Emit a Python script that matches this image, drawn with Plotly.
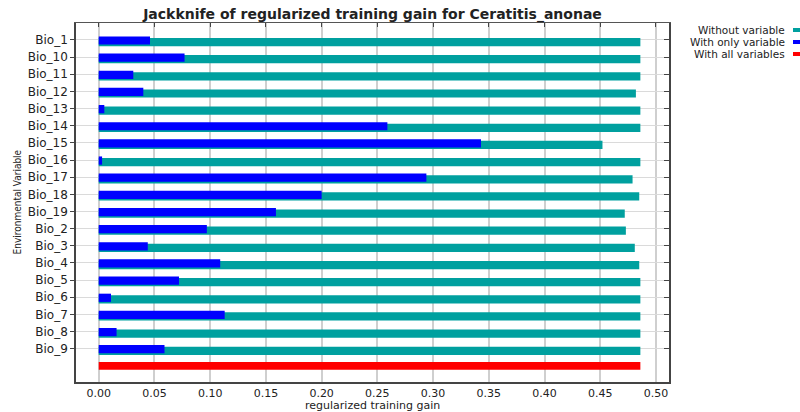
import plotly.graph_objects as go

# Jackknife results for Ceratitis_anonae (regularized training gain)
variables = ["Bio_1", "Bio_10", "Bio_11", "Bio_12", "Bio_13", "Bio_14", "Bio_15",
             "Bio_16", "Bio_17", "Bio_18", "Bio_19", "Bio_2", "Bio_3", "Bio_4",
             "Bio_5", "Bio_6", "Bio_7", "Bio_8", "Bio_9"]
without_variable = [0.486, 0.486, 0.486, 0.482, 0.486, 0.486, 0.452,
                    0.486, 0.479, 0.485, 0.472, 0.473, 0.481, 0.485,
                    0.486, 0.486, 0.486, 0.486, 0.486]
with_only_variable = [0.046, 0.077, 0.031, 0.040, 0.005, 0.259, 0.343,
                      0.003, 0.294, 0.200, 0.159, 0.097, 0.044, 0.109,
                      0.072, 0.011, 0.113, 0.016, 0.059]
with_all_variables = 0.486

x_ticks = [0.00, 0.05, 0.10, 0.15, 0.20, 0.25, 0.30, 0.35, 0.40, 0.45, 0.50]

TEAL = "#00a09f"
BLUE = "#0000ff"
RED = "#ff0000"
TXT = "#222222"
FONT = "DejaVu Sans"

rows = list(range(len(variables)))
all_row = len(variables)

fig = go.Figure()
fig.add_trace(go.Bar(
    x=without_variable, y=rows, orientation="h", name="Without variable",
    marker=dict(color=TEAL, line=dict(width=0)), width=0.48, offset=-0.12,
))
fig.add_trace(go.Bar(
    x=with_only_variable, y=rows, orientation="h", name="With only variable",
    marker=dict(color=BLUE, line=dict(width=0)), width=0.48, offset=-0.21,
))
# the all-variables bar sits on the mirrored (top/right) axes, which share the ranges
fig.add_trace(go.Bar(
    x=[with_all_variables], y=[all_row], orientation="h", name="With all variables",
    marker=dict(color=RED, line=dict(width=0)), width=0.44, offset=-0.22,
    xaxis="x2", yaxis="y2",
))

x_range = [-0.0204, 0.5117]
y_range = [19.94, -0.99]

fig.update_layout(
    width=800, height=412,
    margin=dict(l=76, r=131, t=23, b=30),
    paper_bgcolor="white", plot_bgcolor="white",
    barmode="overlay", showlegend=False,
    font=dict(family=FONT, color=TXT, size=11),
    title=dict(
        text="<b>Jackknife of regularized training gain for Ceratitis_anonae</b>",
        x=0.5, xref="paper", xanchor="center",
        y=1 - 14 / 412, yref="container", yanchor="middle",
        font=dict(family=FONT, size=14, color=TXT),
    ),
    xaxis=dict(
        range=x_range, tickvals=x_ticks, tickformat=".2f",
        showgrid=True, gridcolor="#cfcfcf", gridwidth=1.5,
        zeroline=False, showline=True, linecolor="#444444", linewidth=1.5,
        ticks="", tickfont=dict(size=11, color=TXT),
    ),
    yaxis=dict(
        range=y_range, tickvals=rows, ticktext=variables,
        showgrid=True, gridcolor="#dadada", gridwidth=1,
        zeroline=False, showline=True, linecolor="#444444", linewidth=1.5,
        ticks="outside", ticklen=4, tickcolor="#444444",
        tickfont=dict(size=12, color=TXT),
    ),
    xaxis2=dict(
        range=x_range, tickvals=x_ticks, overlaying="x", side="top",
        anchor="y2", showticklabels=False, ticks="inside", ticklen=4,
        tickcolor="#444444", showgrid=False, zeroline=False,
        showline=True, linecolor="#555555", linewidth=1.2,
    ),
    yaxis2=dict(
        range=y_range, tickvals=rows, overlaying="y", side="right",
        anchor="x2", showticklabels=False, ticks="inside", ticklen=5,
        tickcolor="#444444", showgrid=False, zeroline=False,
        showline=True, linecolor="#444444", linewidth=1.5,
    ),
)

# axis titles
fig.add_annotation(
    text="regularized training gain", xref="paper", yref="paper",
    x=0.5, y=-(405 - 382) / 359, xanchor="center", yanchor="middle",
    showarrow=False, font=dict(family=FONT, size=11, color=TXT),
)
fig.add_annotation(
    text="Environmental Variable", xref="paper", yref="paper",
    x=(17 - 76) / 593, y=0.5, xanchor="center", yanchor="middle", textangle=-90,
    showarrow=False,
    font=dict(family="Liberation Sans Narrow, DejaVu Sans Condensed, sans-serif",
              size=10, color=TXT),
)

# legend: labels right-aligned with a colour swatch to their right
legend_items = [("Without variable", TEAL), ("With only variable", BLUE),
                ("With all variables", RED)]
for i, (label, color) in enumerate(legend_items):
    py = 30 + i * 12
    yp = 1 - (py - 23) / 359
    fig.add_annotation(
        text=label, xref="paper", yref="paper",
        x=(787 - 76) / 593, y=yp, xanchor="right", yanchor="middle",
        showarrow=False, font=dict(family=FONT, size=10.5, color=TXT),
    )
    fig.add_shape(
        type="rect", xref="paper", yref="paper",
        x0=(793 - 76) / 593, x1=(804 - 76) / 593,
        y0=yp - 2 / 359, y1=yp + 2 / 359,
        fillcolor=color, line=dict(width=0),
    )

fig.write_html("out.html")
